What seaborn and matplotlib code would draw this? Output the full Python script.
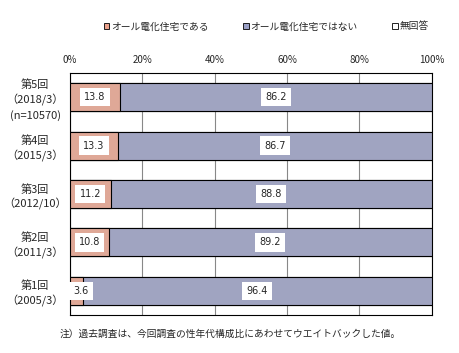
import pandas as pd
import matplotlib.pyplot as plt
import seaborn as sns

sns.set_style("white")
plt.rcParams["font.family"] = ["Noto Sans CJK JP", "DejaVu Sans"]

rounds = ["第5回\n（2018/3）\n(n=10570)", "第4回\n（2015/3）", "第3回\n（2012/10）",
          "第2回\n（2011/3）", "第1回\n（2005/3）"]
yes_vals = [13.8, 13.3, 11.2, 10.8, 3.6]
no_vals = [86.2, 86.7, 88.8, 89.2, 96.4]
na_vals = [0.0, 0.0, 0.0, 0.0, 0.0]
series = ["オール電化住宅である", "オール電化住宅ではない", "無回答"]
colors = ["#EBA18B", "#9AA0C6", "#FFFFFF"]

df = pd.DataFrame({"round": rounds, "yes": yes_vals, "no": no_vals, "na": na_vals})
df["c1"] = df["yes"]
df["c2"] = df["yes"] + df["no"]
df["c3"] = df["c2"] + df["na"]

fig = plt.figure(figsize=(4.59, 3.53), dpi=100)
ax = fig.add_axes([0.1525, 0.108, 0.788, 0.685])

for col, c in zip(["c3", "c2", "c1"], colors[::-1]):
    sns.barplot(data=df, x=col, y="round", orient="h", color=c, width=0.58,
                edgecolor="black", linewidth=0.8, ax=ax, zorder=3)

for i, (a, b) in enumerate(zip(yes_vals, no_vals)):
    ax.text(max(a / 2, 3.0), i, f"{a:.1f}", ha="center", va="center", fontsize=7,
            family="DejaVu Sans", zorder=5,
            bbox=dict(facecolor="white", edgecolor="none", pad=3))
    ax.text(a + b / 2, i, f"{b:.1f}", ha="center", va="center", fontsize=7,
            family="DejaVu Sans", zorder=5,
            bbox=dict(facecolor="white", edgecolor="none", pad=3))

ax.set_xlim(0, 100)
ax.set_xticks([0, 20, 40, 60, 80, 100])
ax.set_xticklabels(["0%", "20%", "40%", "60%", "80%", "100%"], fontsize=7)
ax.xaxis.tick_top()
ax.tick_params(axis="x", length=0, pad=6)
ax.tick_params(axis="y", length=0, pad=25)
ax.set_yticks(range(len(rounds)))
ax.set_yticklabels(rounds, fontsize=8, linespacing=1.4)
for lab in ax.get_yticklabels():
    lab.set_horizontalalignment("center")
ax.set_xlabel("")
ax.set_ylabel("")
ax.grid(axis="x", color="#888888", linewidth=0.8, zorder=0)
for s in ax.spines.values():
    s.set_color("black")
    s.set_linewidth(0.8)

handles = [plt.Rectangle((0, 0), 1, 1, facecolor=c, edgecolor="black", linewidth=0.6)
           for c in colors]
fig.legend(handles, series, loc="center", bbox_to_anchor=(0.58, 0.925), ncol=3,
           frameon=False, fontsize=7, handlelength=0.6, handleheight=0.6,
           handletextpad=0.2, columnspacing=3.5)

fig.text(0.13, 0.045, "注）過去調査は、今回調査の性年代構成比にあわせてウエイトバックした値。",
         fontsize=7)

fig.savefig("out.png", dpi=100)
